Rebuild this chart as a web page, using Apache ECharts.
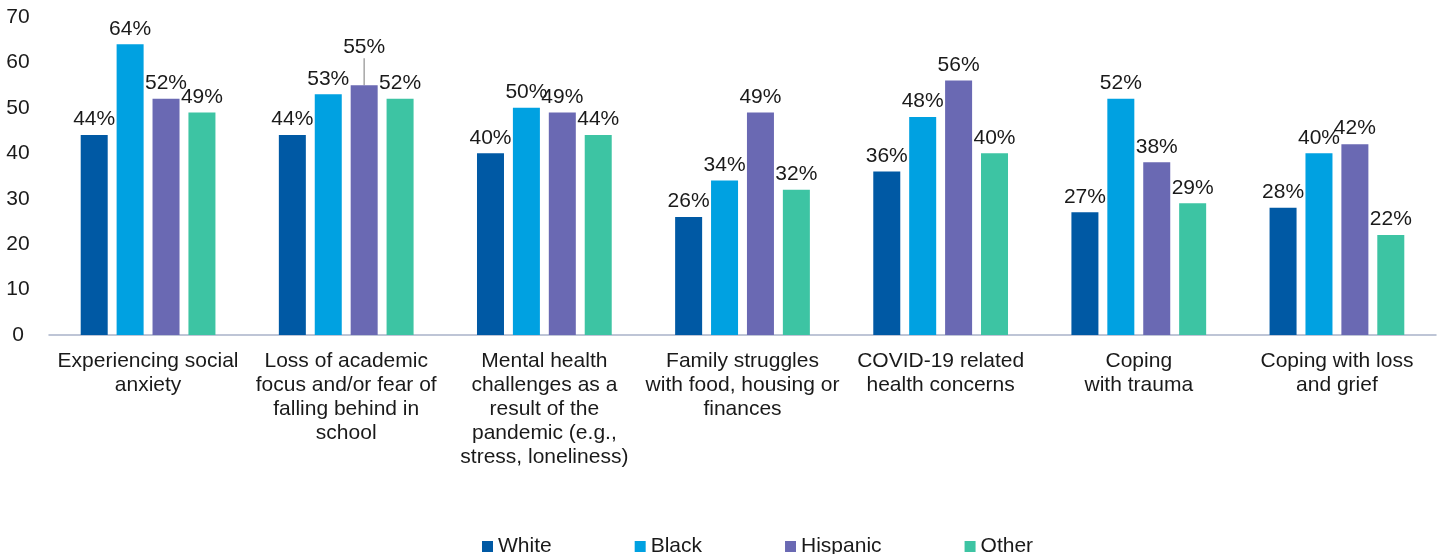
<!DOCTYPE html>
<html>
<head>
<meta charset="utf-8">
<script src="https://cdn.jsdelivr.net/npm/echarts@6/dist/echarts.min.js"></script>
<style>
html, body { margin: 0; padding: 0; background: #fff; }
#container { width: 1444px; height: 554px; }
</style>
</head>
<body>
<div id="container"></div>
<script>
var categories = [
    'Experiencing social\nanxiety',
    'Loss of academic\nfocus and/or fear of\nfalling behind in\nschool',
    'Mental health\nchallenges as a\nresult of the\npandemic (e.g.,\nstress, loneliness)',
    'Family struggles\nwith food, housing or\nfinances',
    'COVID-19 related\nhealth concerns',
    'Coping\nwith trauma',
    'Coping with loss\nand grief'
];
var white = [44, 44, 40, 26, 36, 27, 28];
var black = [64, 53, 50, 34, 48, 52, 40];
var hispanic = [52, 55, 49, 49, 56, 38, 42];
var other = [49, 52, 44, 32, 40, 29, 22];
var yTicks = [0, 10, 20, 30, 40, 50, 60, 70];

var font = 'Liberation Sans, Arial, sans-serif';
var colors = ['#0059a4', '#00a1e1', '#6a69b3', '#3dc4a3'];

var dom = document.getElementById('container');
var myChart = echarts.init(dom);

function makeSeries(name, data) {
    return {
        name: name,
        type: 'bar',
        data: data,
        barGap: '33%',
        barCategoryGap: '32%',
        label: {
            show: true,
            position: 'top',
            distance: 5,
            formatter: '{c}%',
            fontFamily: font,
            fontSize: 21,
            color: '#1a1a1a'
        }
    };
}

var series = [
    makeSeries('White', white),
    makeSeries('Black', black),
    makeSeries('Hispanic', hispanic),
    makeSeries('Other', other)
];
// the 55% label sits higher with a leader line
series[2].data = hispanic.map(function (v, i) {
    if (i !== 1) return v;
    return {
        value: v,
        labelLine: { show: true, lineStyle: { color: '#a6a6a6', width: 1.5 } }
    };
});

var option = {
    color: colors,
    animation: false,
    textStyle: { fontFamily: font },
    grid: {
        left: 49,
        right: 8,
        top: 17,
        bottom: 219
    },
    legend: {
        top: 536,
        left: 482,
        padding: 0,
        itemWidth: 11,
        itemHeight: 11,
        itemGap: 83,
        icon: 'rect',
        textStyle: { fontFamily: font, fontSize: 21, color: '#1a1a1a' },
        data: ['White', 'Black', 'Hispanic', 'Other']
    },
    xAxis: {
        type: 'category',
        data: categories,
        axisTick: { show: false },
        axisLine: { lineStyle: { color: '#a9b3c9', width: 1.5 } },
        axisLabel: {
            fontFamily: font,
            fontSize: 21,
            color: '#1a1a1a',
            lineHeight: 24,
            margin: 14,
            interval: 0
        }
    },
    yAxis: {
        type: 'value',
        min: yTicks[0],
        max: yTicks[yTicks.length - 1],
        interval: 10,
        splitLine: { show: false },
        axisLine: { show: false },
        axisTick: { show: false },
        axisLabel: {
            fontFamily: font,
            fontSize: 21,
            color: '#1a1a1a',
            align: 'center',
            margin: 31
        }
    },
    labelLayout: function (params) {
        if (params.seriesIndex === 2 && params.dataIndex === 1) {
            return { dy: -22 };
        }
    },
    series: series
};

myChart.setOption(option, true);
</script>
</body>
</html>
